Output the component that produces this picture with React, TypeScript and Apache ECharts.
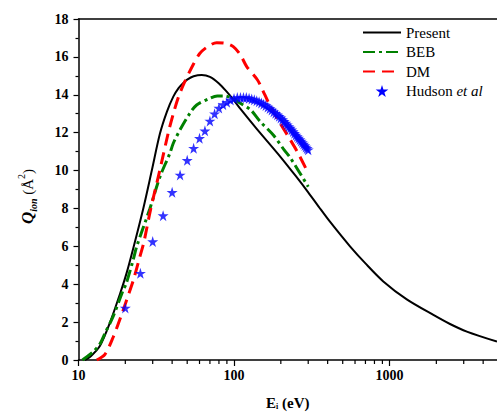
import React, { useEffect, useRef } from "react";
import * as echarts from "echarts";

const presentE = [11.0, 12.0, 13.75, 15.9, 18.5, 20.4, 22.5, 26.1, 29.6, 33.4, 37, 40.7, 44, 47.2, 50, 55, 62, 70, 80, 90, 100, 110, 140, 200, 250, 300, 350, 414, 557, 700, 912, 1291, 1914, 2449, 3141, 4910];
const presentQ = [0, 0.2, 0.75, 1.95, 3.5, 4.6, 5.9, 8.0, 10.0, 11.95, 13.1, 13.9, 14.35, 14.62, 14.8, 14.98, 15.05, 14.95, 14.6, 14.15, 13.7, 13.25, 12.2, 10.7, 9.7, 8.85, 8.1, 7.3, 6.0, 5.1, 4.15, 3.2, 2.38, 1.9, 1.5, 0.97];

const bebE = [10.6, 12.45, 13.75, 14.8, 16.7, 19.4, 20.2, 22.5, 23.7, 28.8, 33.5, 38.7, 40.7, 44.9, 52.1, 57.5, 70, 78, 86, 100, 110, 128, 147, 180, 210, 229, 300];
const bebQ = [0, 0.44, 0.85, 1.41, 2.3, 3.7, 4.0, 5.3, 6.0, 8.0, 9.7, 10.91, 11.44, 12.14, 13.03, 13.46, 13.82, 13.94, 13.94, 13.78, 13.55, 13.2, 12.6, 11.85, 11.09, 10.7, 9.15];

const dmE = [13.1, 14.8, 16.7, 18.9, 20.4, 22.5, 24.9, 26.3, 29, 33.3, 37.8, 40.7, 44, 48, 54.7, 60.4, 68, 77.4, 88, 98.9, 110, 120.7, 141.6, 150.7, 171, 198, 229, 259, 300];
const dmQ = [0, 0.3, 1.2, 2.38, 3.17, 4.2, 5.5, 6.2, 7.9, 10.0, 12.0, 13.0, 13.9, 14.65, 15.6, 16.19, 16.55, 16.75, 16.72, 16.54, 16.1, 15.49, 14.78, 14.35, 13.4, 12.5, 11.65, 10.9, 9.86];

const hudsonE = [20, 25, 30, 35, 40, 45, 50, 55, 60, 65, 70, 75, 80, 85, 90, 95, 100, 105, 110, 115, 120, 125, 130, 135, 140, 145, 150, 155, 160, 165, 170, 175, 180, 185, 190, 195, 200, 205, 210, 215, 220, 225, 230, 235, 240, 245, 250, 255, 260, 265, 270, 275, 280, 285, 290, 295, 300];
const hudsonQ = [2.75, 4.58, 6.25, 7.62, 8.85, 9.77, 10.54, 11.18, 11.7, 12.1, 12.62, 13.0, 13.3, 13.48, 13.6, 13.72, 13.8, 13.85, 13.86, 13.86, 13.85, 13.82, 13.78, 13.74, 13.69, 13.63, 13.57, 13.5, 13.43, 13.35, 13.27, 13.19, 13.1, 13.02, 12.94, 12.86, 12.78, 12.69, 12.6, 12.51, 12.42, 12.33, 12.24, 12.15, 12.06, 11.97, 11.88, 11.8, 11.72, 11.64, 11.56, 11.48, 11.4, 11.32, 11.24, 11.17, 11.1];

const xMajorTicks = [10, 100, 1000];
const xMinorTicks = [20, 30, 40, 50, 60, 70, 80, 90, 200, 300, 400, 500, 600, 700, 800, 900, 2000, 3000, 4000];
const xMin = 10;
const xMax = 4910;

const zip = (xs: number[], ys: number[]) => xs.map((x, i) => [x, ys[i]]);

const STAR = "path://M50,0 L61,35 L98,35 L68,57 L79,91 L50,70 L21,91 L32,57 L2,35 L39,35 Z";
const FONT = "Liberation Serif";

export default function App() {
  const ref = useRef<HTMLDivElement>(null);
  useEffect(() => {
    if (!ref.current) return;
    const chart = echarts.init(ref.current, null, { renderer: "svg" });
    const axisLineStyle = { color: "#000", width: 1.5 };
    chart.setOption({
      animation: false,
      backgroundColor: "#fff",
      textStyle: { fontFamily: FONT, color: "#000" },
      grid: { left: 78.5, right: 0, top: 19, bottom: 53, containLabel: false, outerBoundsMode: "none" },
      legend: {
        orient: "vertical",
        left: 362,
        top: 25,
        padding: 0,
        itemWidth: 38,
        itemHeight: 12,
        itemGap: 4.5,
        itemStyle: { opacity: 0 },
        textStyle: {
          fontFamily: FONT,
          fontSize: 15,
          color: "#000",
          rich: { it: { fontFamily: FONT, fontSize: 15, fontStyle: "italic", color: "#000" } },
        },
        formatter: (name: string) => (name === "Hudson" ? "Hudson {it|et al}" : name),
        data: [
          "Present",
          "BEB",
          "DM",
          { name: "Hudson", icon: STAR, itemStyle: { color: "#0000ff", opacity: 1 } },
        ],
      },
      xAxis: [
        {
          type: "log",
          logBase: 10,
          min: xMin,
          max: xMax,
          position: "bottom",
          name: "{e|E}{i|i}{e| (eV)}",
          nameLocation: "middle",
          nameGap: 35,
          nameTextStyle: {
            rich: {
              e: { fontFamily: FONT, fontSize: 15, fontWeight: "bold", color: "#000", lineHeight: 15, verticalAlign: "bottom" },
              i: { fontFamily: FONT, fontSize: 8, fontWeight: "bold", color: "#000", lineHeight: 15, verticalAlign: "bottom" },
            },
          },
          axisLine: { show: true, lineStyle: axisLineStyle },
          axisTick: { show: true, inside: false, length: 6, lineStyle: { color: "#000", width: 1.2 }, customValues: xMajorTicks },
          axisLabel: {
            show: true,
            margin: 8,
            fontFamily: FONT,
            fontSize: 14,
            fontWeight: "bold",
            color: "#000",
            customValues: xMajorTicks,
            formatter: (v: number) => String(Math.round(v)),
          },
          splitLine: { show: false },
        },
        {
          type: "log",
          logBase: 10,
          min: xMin,
          max: xMax,
          position: "top",
          axisLine: { show: true, lineStyle: axisLineStyle },
          axisTick: { show: false },
          axisLabel: { show: false },
          splitLine: { show: false },
        },
      ],
      yAxis: {
        type: "value",
        min: 0,
        max: 18,
        interval: 2,
        name: "{q|Q}{s|ion}{p| (Å}{sup|2}{p|)}",
        nameLocation: "middle",
        nameRotate: 90,
        nameGap: 40,
        nameTextStyle: {
          padding: [0, 0, 0, -14],
          rich: {
            q: { fontFamily: FONT, fontSize: 17, fontWeight: "bold", fontStyle: "italic", color: "#000", lineHeight: 22, verticalAlign: "middle" },
            s: { fontFamily: FONT, fontSize: 10, fontWeight: "bold", fontStyle: "italic", color: "#000", lineHeight: 22, verticalAlign: "bottom" },
            p: { fontFamily: FONT, fontSize: 15, color: "#000", lineHeight: 22, verticalAlign: "middle" },
            sup: { fontFamily: FONT, fontSize: 10, color: "#000", lineHeight: 22, verticalAlign: "top" },
          },
        },
        axisLine: { show: true, lineStyle: axisLineStyle },
        axisTick: { show: true, inside: false, length: 5, lineStyle: { color: "#000", width: 1.2 } },
        minorTick: { show: true, splitNumber: 2, length: 3, lineStyle: { color: "#000", width: 1.2 } },
        axisLabel: { margin: 10, fontFamily: FONT, fontSize: 14, fontWeight: "bold", color: "#000" },
        splitLine: { show: false },
        minorSplitLine: { show: false },
      },
      series: [
        {
          name: "minorTicks",
          type: "custom",
          xAxisIndex: 0,
          clip: false,
          silent: true,
          data: xMinorTicks.map((v) => [v, 0]),
          encode: { x: 0, y: 1 },
          renderItem: (params: any, api: any) => {
            const p = api.coord([api.value(0), api.value(1)]);
            return {
              type: "line",
              shape: { x1: p[0], y1: p[1], x2: p[0], y2: p[1] + 4 },
              style: { stroke: "#000", lineWidth: 1.2 },
            };
          },
          z: 1,
        },
        {
          name: "Present",
          type: "line",
          data: zip(presentE, presentQ),
          smooth: 0.3,
          symbol: "none",
          lineStyle: { color: "#000", width: 2 },
          itemStyle: { color: "#000" },
          z: 3,
        },
        {
          name: "BEB",
          type: "line",
          data: zip(bebE, bebQ),
          smooth: 0.3,
          symbol: "none",
          lineStyle: { color: "#008000", width: 3, type: [12, 4, 3, 4] },
          itemStyle: { color: "#008000" },
          z: 3,
        },
        {
          name: "DM",
          type: "line",
          data: zip(dmE, dmQ),
          smooth: 0.3,
          symbol: "none",
          lineStyle: { color: "#ff0000", width: 3, type: [12, 7] },
          itemStyle: { color: "#ff0000" },
          z: 3,
        },
        {
          name: "Hudson",
          type: "scatter",
          data: zip(hudsonE, hudsonQ),
          symbol: STAR,
          symbolSize: 11,
          itemStyle: { color: "#0000ff" },
          z: 4,
        },
      ],
    });
    return () => chart.dispose();
  }, []);
  return <div ref={ref} style={{ width: 497, height: 413, position: "fixed", left: 0, top: 0 }} />;
}
